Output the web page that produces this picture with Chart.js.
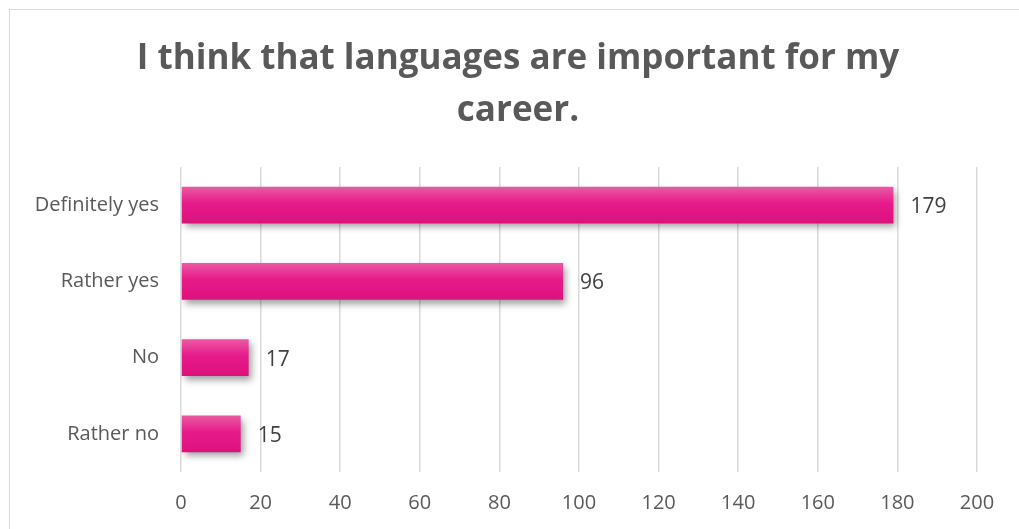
<!DOCTYPE html>
<html><head><meta charset="utf-8">
<script src="https://cdn.jsdelivr.net/npm/chart.js@4"></script>
<style>
html,body{margin:0;padding:0;background:#fff;overflow:hidden}
#frame{position:absolute;left:9px;top:9px;width:1020px;height:530px;border:1px solid #d9d9d9;box-sizing:border-box}
#wrap{position:absolute;left:0;top:0;width:1019px;height:529px}
</style></head>
<body>
<div id="frame"></div>
<div id="wrap"><canvas id="c" width="1019" height="529"></canvas></div>
<script>
const titleLines = ['I think that languages are important for my', 'career.'];
const categories = ['Definitely yes', 'Rather yes', 'No', 'Rather no'];
const values = [179, 96, 17, 15];
const xMin = 0, xMax = 200, xStep = 20;

const FONT = "'Open Sans', 'Liberation Sans', sans-serif";
const BAR_PCT = 0.48;

function barFill(ctx) {
  const chart = ctx.chart;
  const ys = chart.scales && chart.scales.y;
  if (!ys || ctx.dataIndex === undefined) return '#e5198a';
  const cy = ys.getPixelForValue(ctx.dataIndex);
  const slot = ys.height / categories.length;
  const half = slot * BAR_PCT / 2;
  if (!isFinite(cy) || !isFinite(half) || half <= 0) return '#e5198a';
  const g = chart.ctx.createLinearGradient(0, cy - half, 0, cy + half);
  g.addColorStop(0, '#ea5aa2');
  g.addColorStop(0.45, '#e71a8b');
  g.addColorStop(1, '#dc127c');
  return g;
}

const shadowPlugin = {
  id: 'shadow',
  beforeDatasetsDraw(chart) {
    const c = chart.ctx;
    c.save();
    c.shadowColor = 'rgba(0,0,0,0.38)';
    c.shadowBlur = 7;
    c.shadowOffsetX = 3;
    c.shadowOffsetY = 4;
  },
  afterDatasetsDraw(chart) { chart.ctx.restore(); }
};

const labelPlugin = {
  id: 'valueLabels',
  afterDatasetsDraw(chart) {
    const c = chart.ctx;
    const meta = chart.getDatasetMeta(0);
    c.save();
    c.font = '21px ' + FONT;
    c.fillStyle = '#404040';
    c.textAlign = 'left';
    c.textBaseline = 'middle';
    meta.data.forEach((bar, i) => {
      c.fillText(String(values[i]), bar.x + 17, bar.y + 2);
    });
    c.restore();
  }
};

// Title drawn centred over the whole frame (Chart.js' own title box would be offset by the axis padding)
const titlePlugin = {
  id: 'frameTitle',
  afterDraw(chart) {
    const c = chart.ctx;
    c.save();
    c.font = 'bold 35px ' + FONT;
    c.fillStyle = '#595959';
    c.textAlign = 'center';
    c.textBaseline = 'middle';
    titleLines.forEach((t, i) => c.fillText(t, 518, 59 + i * 52));
    c.restore();
  }
};

new Chart(document.getElementById('c'), {
  type: 'bar',
  data: {
    labels: categories,
    datasets: [{
      data: values,
      backgroundColor: barFill,
      borderWidth: 0,
      categoryPercentage: 1,
      barPercentage: BAR_PCT
    }]
  },
  options: {
    indexAxis: 'y',
    responsive: false,
    animation: false,
    devicePixelRatio: 1,
    layout: { padding: { left: 0, right: 42, top: 167, bottom: 0 } },
    plugins: {
      legend: { display: false },
      tooltip: { enabled: false },
      title: { display: false }
    },
    scales: {
      x: {
        min: xMin, max: xMax,
        ticks: { stepSize: xStep, color: '#595959', font: { family: FONT, size: 20 }, padding: 19 },
        grid: { color: '#d9d9d9', lineWidth: 1.5, drawTicks: false },
        border: { display: false },
        afterFit(s) { s.height = 57; }
      },
      y: {
        ticks: { color: '#595959', font: { family: FONT, size: 20 }, padding: 14 },
        grid: { display: false },
        border: { display: false },
        afterFit(s) { s.width = 181; }
      }
    }
  },
  plugins: [shadowPlugin, labelPlugin, titlePlugin]
});
</script>
</body></html>
